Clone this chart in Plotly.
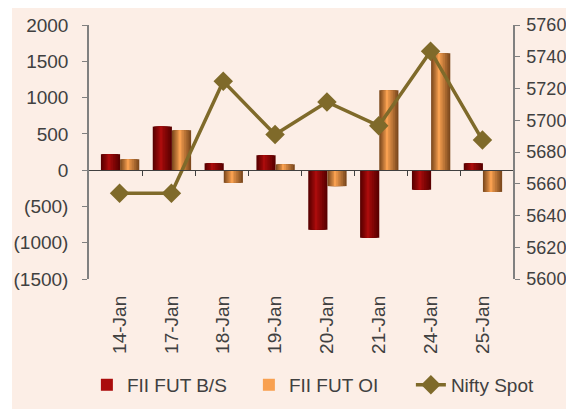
import plotly.graph_objects as go

dates = ["14-Jan", "17-Jan", "18-Jan", "19-Jan", "20-Jan", "21-Jan", "24-Jan", "25-Jan"]
fii_bs = [220, 600, 95, 205, -820, -930, -270, 95]
fii_oi = [150, 550, -175, 80, -220, 1100, 1610, -300]
nifty = [5654, 5654, 5724.5, 5691, 5711.5, 5696.5, 5743.5, 5687.5]

left_ticks = [-1500, -1000, -500, 0, 500, 1000, 1500, 2000]
left_text = ["(1500)", "(1000)", "(500)", "0", "500", "1000", "1500", "2000"]

FONT = "Liberation Sans, Arial, sans-serif"
TXT = "#404040"
AX = "#808080"
BG = "#FCEEE6"

fig = go.Figure()


def blend(c1, c2, t):
    a = [int(c1[i:i + 2], 16) for i in (1, 3, 5)]
    b = [int(c2[i:i + 2], 16) for i in (1, 3, 5)]
    return "#%02x%02x%02x" % tuple(round(a[i] + (b[i] - a[i]) * t) for i in range(3))


# fake a horizontal gradient by stacking narrower, lighter bars
def gradient_bars(name, vals, off, w, dark, light, n=7):
    for k in range(n):
        t = k / (n - 1)
        left = off + w * 0.38 * t
        right = off + w - w * 0.55 * t
        fig.add_trace(go.Bar(
            x=dates, y=vals, name=name, legendgroup=name,
            showlegend=(k == n - 1),
            offset=left, width=right - left,
            marker=dict(color=blend(dark, light, t), line_width=0),
            hoverinfo="skip" if k < n - 1 else None,
        ))


gradient_bars("FII FUT B/S", fii_bs, -0.36, 0.37, "#5A0000", "#AA0C0C")
gradient_bars("FII FUT OI", fii_oi, 0.01, 0.37, "#7E4A1E", "#F8A050")

fig.add_trace(go.Scatter(
    x=dates, y=nifty, name="Nifty Spot", yaxis="y2",
    mode="lines+markers",
    line=dict(color="#7F6A2A", width=3.5),
    marker=dict(symbol="diamond", size=15, color="#7F6A2A"),
))

# dummy trace so the zero-line axis with category ticks is drawn
fig.add_trace(go.Scatter(x=[0], y=[0], xaxis="x2", mode="markers",
                         marker=dict(opacity=0), showlegend=False, hoverinfo="skip"))

# page body has an 8px margin, so the figure is 8px smaller than the window
fig.update_layout(
    width=566, height=401,
    margin=dict(l=81, r=61, t=17, b=130, autoexpand=False),
    paper_bgcolor="white", plot_bgcolor=BG,
    barmode="overlay",
    font=dict(family=FONT, size=19, color=TXT),
    showlegend=True,
    legend=dict(orientation="h", x=-0.005, xanchor="left", y=-0.417, yanchor="middle",
                font=dict(size=19, color=TXT), bgcolor="rgba(0,0,0,0)", traceorder="normal",
                entrywidth=117),
    xaxis=dict(type="category", showline=False, ticks="", tickangle=-90,
               showgrid=False, zeroline=False, ticklabelstandoff=12, automargin=False),
    xaxis2=dict(overlaying="x", anchor="free", position=1500 / 3500, range=[-0.5, 7.5],
                showline=True, linecolor=TXT, linewidth=1, ticks="outside", ticklen=5,
                tickcolor=TXT, tickvals=[0.5, 1.5, 2.5, 3.5, 4.5, 5.5, 6.5],
                showticklabels=False, showgrid=False, zeroline=False, automargin=False),
    yaxis=dict(range=[-1500, 2000], tickvals=left_ticks, ticktext=left_text,
               showline=True, linecolor=AX, linewidth=1.5, ticks="outside", ticklen=5,
               tickcolor=AX, showgrid=False, zeroline=False, automargin=False,
               ticklabelstandoff=10),
    yaxis2=dict(range=[5600, 5760], dtick=20, overlaying="y", side="right",
                showline=True, linecolor=AX, linewidth=1.5, ticks="outside", ticklen=5,
                tickcolor=AX, showgrid=False, zeroline=False, automargin=False,
                ticklabelstandoff=3, tickfont=dict(size=18)),
    shapes=[dict(type="rect", xref="paper", yref="paper", layer="below",
                 x0=-0.1816, x1=1.15, y0=-0.53, y1=1.071,
                 fillcolor=BG, line_width=0)],
)

fig.write_html("out.html")
